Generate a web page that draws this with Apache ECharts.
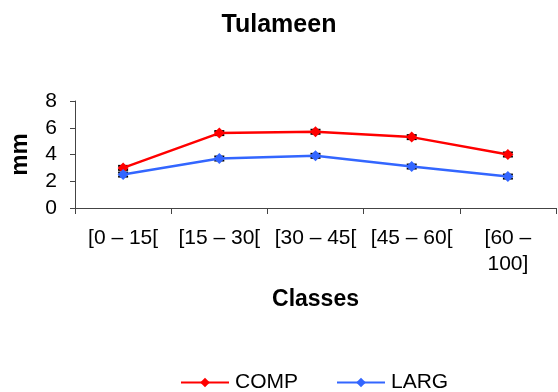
<!DOCTYPE html>
<html><head><meta charset="utf-8">
<script src="https://cdn.jsdelivr.net/npm/echarts@6/dist/echarts.min.js"></script>
<style>html,body{margin:0;padding:0;background:#fff}#c{width:558px;height:392px}</style>
</head><body><div id="c"></div>
<script>
const categories = ['[0 – 15[', '[15 – 30[', '[30 – 45[', '[45 – 60[', '[60 –\n100]'];
const comp = [3.0, 5.6, 5.7, 5.3, 4.0];
const larg = [2.5, 3.7, 3.9, 3.1, 2.35];
const compErr = [0.15, 0.15, 0.15, 0.15, 0.15];
const largErr = [0.15, 0.15, 0.15, 0.15, 0.15];
const yTicks = [0, 2, 4, 6, 8];

function errData(vals, errs) {
  return vals.map((v, i) => [i, v - errs[i], v + errs[i]]);
}
function renderErr(params, api) {
  const x = api.value(0);
  const lo = api.coord([x, api.value(1)]);
  const hi = api.coord([x, api.value(2)]);
  const hw = 5;
  const st = { stroke: '#000', lineWidth: 2 };
  return { type: 'group', children: [
    { type: 'line', shape: { x1: lo[0], y1: lo[1], x2: hi[0], y2: hi[1] }, style: st },
    { type: 'line', shape: { x1: lo[0] - hw, y1: lo[1], x2: lo[0] + hw, y2: lo[1] }, style: st },
    { type: 'line', shape: { x1: hi[0] - hw, y1: hi[1], x2: hi[0] + hw, y2: hi[1] }, style: st }
  ]};
}
const FF = 'Liberation Sans, Arial, sans-serif';
const chart = echarts.init(document.getElementById('c'));
chart.setOption({
  animation: false,
  textStyle: { fontFamily: FF },
  title: { text: 'Tulameen', left: 'center', top: 8,
    textStyle: { fontSize: 25, fontWeight: 'bold', color: '#000', fontFamily: FF } },
  legend: { top: 367, left: 175, itemWidth: 48, itemHeight: 12, itemGap: 38,
    data: ['COMP', 'LARG'],
    textStyle: { fontSize: 21, color: '#000', fontFamily: FF, padding: [0, 0, 0, 1] } },
  grid: { left: 70, right: 2, top: 101, bottom: 184 },
  xAxis: { type: 'category', data: categories, boundaryGap: true,
    name: 'Classes', nameLocation: 'middle', nameGap: 80,
    nameTextStyle: { fontSize: 23, fontWeight: 'bold', color: '#000' },
    axisLine: { lineStyle: { color: '#444', width: 1 } },
    axisTick: { show: true, length: 6, lineStyle: { color: '#444' } },
    axisLabel: { fontSize: 21, color: '#000', margin: 17, interval: 0, lineHeight: 26 } },
  yAxis: { type: 'value', min: yTicks[0], max: yTicks[yTicks.length - 1], interval: 2,
    name: 'mm', nameLocation: 'middle', nameGap: 43, nameRotate: 90,
    nameTextStyle: { fontSize: 24, fontWeight: 'bold', color: '#000' },
    axisLine: { show: true, lineStyle: { color: '#444' } },
    axisTick: { show: true, length: 5, lineStyle: { color: '#444' } },
    splitLine: { show: false },
    axisLabel: { fontSize: 21, color: '#000', margin: 18 } },
  series: [
    { type: 'custom', name: 'compErr', renderItem: renderErr, data: errData(comp, compErr), z: 1, silent: true },
    { type: 'custom', name: 'largErr', renderItem: renderErr, data: errData(larg, largErr), z: 1, silent: true },
    { name: 'COMP', type: 'line', data: comp, symbol: 'diamond', symbolSize: 11,
      lineStyle: { color: '#ff0000', width: 2.5 }, itemStyle: { color: '#ff0000' }, z: 3 },
    { name: 'LARG', type: 'line', data: larg, symbol: 'diamond', symbolSize: 11,
      lineStyle: { color: '#3366ff', width: 2.5 }, itemStyle: { color: '#3366ff' }, z: 3 }
  ]
});
</script></body></html>
